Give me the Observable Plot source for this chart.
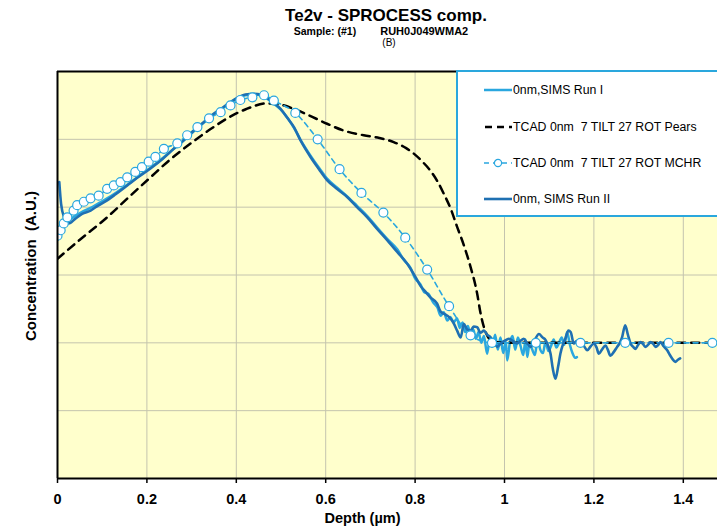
<!DOCTYPE html>
<html>
<head>
<meta charset="utf-8">
<script src="https://cdn.jsdelivr.net/npm/d3@7"></script>
<script src="https://cdn.jsdelivr.net/npm/@observablehq/plot@0.6"></script>
<style>
  body { margin: 0; background: white; }
  #wrap { position: relative; width: 717px; height: 528px; overflow: hidden; font-family: "Liberation Sans", Arial, sans-serif; color: black; }
  .ttl { position: absolute; left: 386px; transform: translateX(-50%); white-space: pre; text-align: center; }
  #legend { position: absolute; left: 456px; top: 70px; width: 300px; height: 147px; box-sizing: border-box; border: 2px solid #2aa7dd; background: white; }
  .lrow { position: absolute; left: 0; height: 14px; line-height: 14px; font-size: 12.3px; white-space: pre; }
  .lrow svg { position: absolute; left: 25px; top: 0; }
  .lrow span { position: absolute; left: 55px; top: 0; }
  #chart svg { position: absolute; left: 0; top: 0; }
</style>
</head>
<body>
<div id="wrap">
  <div id="chart"></div>
  <div class="ttl" style="top:7px;font-size:17px;line-height:17px;font-weight:bold;">Te2v - SPROCESS comp.</div>
  <div class="ttl" style="left:381px;top:26px;font-size:10.5px;line-height:10.5px;font-weight:bold;"><span>Sample: (#1)</span><span style="margin-left:24px;font-size:11px;">RUH0J049WMA2</span></div>
  <div class="ttl" style="left:389px;top:37.5px;font-size:10px;line-height:10px;">(B)</div>
  <div id="legend"></div>
</div>
<script>
// ---- data ----
const xTicks = [0, 0.2, 0.4, 0.6, 0.8, 1, 1.2, 1.4];
const xTickLabels = ["0", "0.2", "0.4", "0.6", "0.8", "1", "1.2", "1.4"];
const yGrid = [1, 2, 3, 4, 5];

const seriesNames = ["0nm,SIMS Run I", "TCAD 0nm  7 TILT 27 ROT Pears", "TCAD 0nm  7 TILT 27 ROT MCHR", "0nm, SIMS Run II"];
const seriesColors = ["#2aa7df", "#000000", "#2aa7df", "#1f70b2"];

const runIDepth = [0, 0.006, 0.015, 0.025, 0.04, 0.055, 0.074, 0.09, 0.111, 0.13, 0.156, 0.18, 0.208, 0.235, 0.26, 0.285, 0.305, 0.33, 0.35, 0.37, 0.387, 0.405, 0.42, 0.44, 0.455, 0.469, 0.485, 0.499, 0.515, 0.529, 0.544, 0.566, 0.585, 0.603, 0.625, 0.648, 0.67, 0.693, 0.715, 0.738, 0.76, 0.775, 0.79,
  0.8, 0.812, 0.82, 0.83, 0.84, 0.85, 0.857, 0.864, 0.872, 0.879, 0.886, 0.894, 0.9, 0.906, 0.912, 0.918, 0.924, 0.93, 0.936, 0.942, 0.948, 0.954, 0.961, 0.967, 0.973, 0.979, 0.985, 0.991, 0.997, 1.003, 1.006, 1.012, 1.018, 1.024, 1.03, 1.036, 1.042, 1.047, 1.051, 1.056, 1.062, 1.068, 1.074, 1.08, 1.086, 1.092, 1.098, 1.104, 1.11, 1.116, 1.122, 1.128, 1.134, 1.14, 1.146, 1.152, 1.158, 1.162];
const runIConc = [3.52, 3.62, 3.72, 3.8, 3.87, 3.93, 3.99, 4.05, 4.13, 4.21, 4.33, 4.45, 4.58, 4.72, 4.86, 5.0, 5.12, 5.26, 5.37, 5.46, 5.54, 5.61, 5.65, 5.66, 5.65, 5.6, 5.52, 5.44, 5.31, 5.17, 4.99, 4.76, 4.58, 4.42, 4.29, 4.16, 4.02, 3.87, 3.7, 3.53, 3.38, 3.22, 3.1,
  2.95, 2.86, 2.75, 2.72, 2.6, 2.52, 2.4, 2.45, 2.33, 2.38, 2.3, 2.36, 2.22, 2.3, 2.16, 2.25, 2.12, 2.2, 2.06, 2.16, 2.0, 2.1, 1.84, 2.05, 1.95, 2.12, 1.9, 2.08, 1.85, 2.02, 1.74, 2.0, 2.1, 1.9, 2.08, 1.95, 1.82, 2.05, 1.79, 2.0, 1.9, 1.82, 2.05, 1.9, 1.85, 2.02, 1.88, 1.95, 2.05, 1.93, 2.0, 2.08, 1.97, 2.16, 1.98, 1.85, 1.78, 1.79];

const pearsDepth = [0, 0.05, 0.111, 0.16, 0.208, 0.25, 0.298, 0.34, 0.38, 0.42, 0.469, 0.5, 0.536, 0.57, 0.603, 0.64, 0.685, 0.72, 0.752, 0.78, 0.797, 0.815, 0.834, 0.85, 0.864, 0.88, 0.894, 0.91, 0.924, 0.939, 0.946, 0.954, 0.962, 0.975, 1.0, 1.2, 1.5];
const pearsConc = [3.24, 3.52, 3.85, 4.15, 4.44, 4.69, 4.94, 5.14, 5.31, 5.44, 5.53, 5.51, 5.43, 5.33, 5.23, 5.13, 5.06, 5.02, 4.96, 4.87, 4.79, 4.68, 4.54, 4.38, 4.2, 3.97, 3.71, 3.42, 3.12, 2.72, 2.45, 2.23, 2.1, 2.02, 2.0, 2.0, 2.0];

const mchrDepth = [0, 0.007, 0.014, 0.022, 0.036, 0.044, 0.059, 0.074, 0.092, 0.111, 0.126, 0.141, 0.156, 0.174, 0.189, 0.204, 0.219, 0.238, 0.268, 0.29, 0.313, 0.339, 0.365, 0.387, 0.409, 0.436, 0.462, 0.484, 0.532, 0.582, 0.631, 0.68, 0.729, 0.778, 0.827, 0.876, 0.924, 0.972, 1.07, 1.17, 1.27, 1.367, 1.465, 1.565];
const mchrConc = [3.58, 3.66, 3.76, 3.85, 3.95, 4.03, 4.08, 4.13, 4.17, 4.27, 4.32, 4.37, 4.44, 4.52, 4.59, 4.67, 4.74, 4.86, 4.94, 5.06, 5.18, 5.31, 5.4, 5.5, 5.58, 5.62, 5.65, 5.57, 5.39, 5.0, 4.56, 4.21, 3.92, 3.55, 3.08, 2.54, 2.11, 2.0, 2.0, 2.0, 2.0, 2.0, 2.0, 2.0];

const runIIDepth = [0.004, 0.008, 0.015, 0.025, 0.04, 0.055, 0.074, 0.09, 0.111, 0.13, 0.156, 0.18, 0.208, 0.235, 0.26, 0.285, 0.305, 0.33, 0.35, 0.37, 0.387, 0.405, 0.42, 0.44, 0.455, 0.469, 0.485, 0.499, 0.515, 0.529, 0.544, 0.566, 0.585, 0.603, 0.625, 0.648, 0.67, 0.693, 0.715, 0.738, 0.76, 0.782, 0.8, 0.812, 0.825, 0.834, 0.849, 0.857, 0.864, 0.872, 0.879, 0.887, 0.894, 0.902, 0.909, 0.916, 0.924, 0.931, 0.939, 0.946, 0.954, 0.961, 0.969, 0.977, 0.984, 0.99, 0.995, 1.003, 1.01, 1.02, 1.028, 1.036, 1.043, 1.05, 1.058, 1.066, 1.077, 1.085, 1.092, 1.098, 1.103, 1.108, 1.114, 1.12, 1.125, 1.131, 1.136, 1.143, 1.148, 1.155, 1.162, 1.17, 1.178, 1.185, 1.193, 1.2, 1.206, 1.211, 1.218, 1.226, 1.231, 1.237, 1.245, 1.252, 1.258, 1.263, 1.27, 1.276, 1.282, 1.288, 1.293, 1.298, 1.304, 1.31, 1.315, 1.321, 1.327, 1.333, 1.338, 1.344, 1.349, 1.356, 1.364, 1.37, 1.375, 1.382, 1.388, 1.393];
const runIIConc = [4.37, 4.05, 3.85, 3.76, 3.83, 3.9, 3.95, 4.02, 4.1, 4.19, 4.32, 4.44, 4.57, 4.71, 4.86, 5.0, 5.13, 5.27, 5.38, 5.47, 5.55, 5.62, 5.66, 5.67, 5.66, 5.61, 5.53, 5.45, 5.31, 5.18, 4.98, 4.74, 4.56, 4.4, 4.27, 4.15, 4.0, 3.85, 3.68, 3.51, 3.34, 3.17, 2.98, 2.84, 2.74, 2.67, 2.58, 2.46, 2.43, 2.4, 2.36, 2.28, 2.18, 2.08, 2.28, 2.2, 2.18, 2.24, 2.23, 2.15, 2.18, 2.12, 2.08, 2.0, 1.94, 1.98, 2.01, 2.04, 2.06, 2.02, 1.99, 2.03, 2.06, 2.0, 1.94, 2.02, 2.13, 2.08, 2.04, 1.95, 1.84, 1.62, 1.47, 1.65, 1.84, 1.98, 2.06, 2.18, 2.16, 1.99, 2.03, 2.01, 1.95, 1.89, 1.95, 1.99, 1.93, 1.84, 1.9, 1.96, 1.9, 1.81, 1.87, 1.94, 2.0, 2.08, 2.26, 2.12, 1.99, 1.94, 1.91, 1.96, 2.01, 1.98, 1.94, 1.97, 2.01, 1.98, 1.94, 1.97, 2.01, 1.95, 1.89, 1.82, 1.77, 1.72, 1.75, 1.77];

// ---- build ----
const rows = (xs, ys) => xs.map((x, i) => ({x, y: ys[i]}));
const runI = rows(runIDepth, runIConc);
const pears = rows(pearsDepth, pearsConc);
const mchr = rows(mchrDepth, mchrConc);
const runII = rows(runIIDepth, runIIConc);

const gridColor = "#c4c4ae";

const chart = Plot.plot({
  width: 717,
  height: 528,
  marginTop: 71,
  marginBottom: 50,
  marginLeft: 57,
  marginRight: 0,
  style: {background: "white", fontFamily: "'Liberation Sans', Arial, sans-serif", color: "black"},
  x: {domain: [0, 1.4765]},
  y: {domain: [0, 6], axis: null},
  marks: [
    Plot.frame({fill: "#ffffcc", stroke: "none"}),
    Plot.gridX(xTicks.slice(1), {stroke: gridColor, strokeOpacity: 1, strokeWidth: 1}),
    Plot.gridY(yGrid, {stroke: gridColor, strokeOpacity: 1, strokeWidth: 1}),
    Plot.axisX(xTicks, {tickSize: 5, tickPadding: 10, strokeWidth: 1.5, tickFormat: d => xTickLabels[xTicks.indexOf(d)], fontSize: 14.5, fontWeight: "bold", label: null}),
    Plot.line(runI, {x: "x", y: "y", stroke: seriesColors[0], strokeWidth: 2.5, curve: "monotone-x", clip: true}),
    Plot.line(pears, {x: "x", y: "y", stroke: seriesColors[1], strokeWidth: 2.5, strokeDasharray: "8,6", curve: "monotone-x", clip: true}),
    Plot.line(mchr, {x: "x", y: "y", stroke: seriesColors[2], strokeWidth: 1.6, strokeDasharray: "5,4", curve: "monotone-x", clip: true}),
    Plot.line(runII, {x: "x", y: "y", stroke: seriesColors[3], strokeWidth: 2.6, curve: "monotone-x", clip: true}),
    Plot.dot(mchr, {x: "x", y: "y", r: 4.5, fill: "white", stroke: seriesColors[2], strokeWidth: 1.2, clip: true}),
    Plot.ruleX([0], {stroke: "black", strokeWidth: 2}),
    Plot.ruleY([0, 6], {stroke: "black", strokeWidth: 2}),
    Plot.text(["Depth (µm)"], {frameAnchor: "bottom", textAnchor: "middle", lineAnchor: "middle", dx: -25, dy: 39.4, fontSize: 14.5, fontWeight: "bold", fill: "black"}),
    Plot.text(["Concentration  (A.U.)"], {frameAnchor: "left", textAnchor: "middle", lineAnchor: "middle", rotate: -90, dx: -26, dy: -9, fontSize: 15, fontWeight: "bold", fill: "black"})
  ]
});
document.getElementById("chart").appendChild(chart);

// ---- legend ----
const legend = d3.select("#legend");
const rowCenters = [18, 55, 91, 127];
seriesNames.forEach((name, i) => {
  const row = legend.append("div").attr("class", "lrow").style("top", (rowCenters[i] - 7) + "px");
  const sw = row.append("svg").attr("width", 30).attr("height", 14);
  const line = sw.append("line").attr("x1", 1).attr("x2", 29).attr("y1", 7).attr("y2", 7)
    .attr("stroke", seriesColors[i]);
  if (i === 0) line.attr("stroke-width", 2.5);
  if (i === 1) line.attr("stroke-width", 2.5).attr("stroke-dasharray", "7,5").attr("x1", 2);
  if (i === 2) {
    line.attr("stroke-width", 1.6).attr("stroke-dasharray", "5,4");
    sw.append("circle").attr("cx", 15).attr("cy", 7).attr("r", 3.6).attr("fill", "white").attr("stroke", seriesColors[i]).attr("stroke-width", 1.2);
  }
  if (i === 3) line.attr("stroke-width", 2.6);
  row.append("span").text(name);
});
</script>
</body>
</html>
